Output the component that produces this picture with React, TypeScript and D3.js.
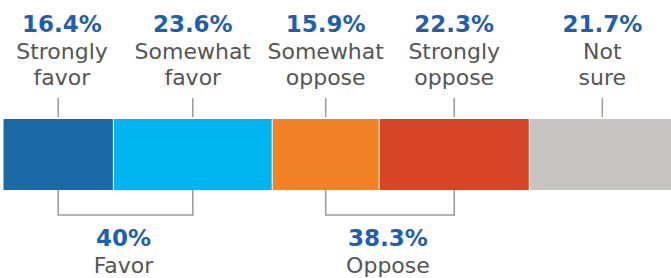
import React from 'react';
import * as d3 from 'd3';

const categories = ['Strongly favor', 'Somewhat favor', 'Somewhat oppose', 'Strongly oppose', 'Not sure'];
const labelLines = [['Strongly', 'favor'], ['Somewhat', 'favor'], ['Somewhat', 'oppose'], ['Strongly', 'oppose'], ['Not', 'sure']];
const values = [16.4, 23.6, 15.9, 22.3, 21.7];
const colors = ['#1b6aa5', '#00b5ef', '#f28227', '#d64527', '#c6c5c3'];

const groupNames = ['Favor', 'Oppose'];
const groupValues = [40, 38.3];
const groupMembers = [[0, 1], [2, 3]];

const width = 671;
const height = 278;
const barTop = 119;
const barBottom = 190;
const font = '"DejaVu Sans", sans-serif';
const blue = '#1f5fad';
const grey = '#555555';
const lineColor = '#9a9a9a';
const minLabelX = 62; // keep the first label block off the left edge

const App = () => {
  const x = d3.scaleLinear().domain([0, 100]).range([3, 676]);

  // cumulative start/end for each segment
  const starts = values.map((_, i) => d3.sum(values.slice(0, i)));
  const segs = values.map((v, i) => ({
    name: categories[i],
    x0: x(starts[i]),
    x1: x(starts[i] + v),
    mid: (x(starts[i]) + x(starts[i] + v)) / 2,
    value: v,
  }));

  const fmt = (v: number) => `${v}%`;

  return (
    <svg width={width} height={height} style={{ position: 'absolute', left: 0, top: 0 }}>
      {segs.map((s, i) => {
        const lx = Math.max(s.mid, minLabelX);
        return (
          <g key={s.name}>
            <rect x={s.x0 + 0.5} y={barTop} width={s.x1 - s.x0 - 1} height={barBottom - barTop} fill={colors[i]} />
            <line x1={s.mid} x2={s.mid} y1={98} y2={117} stroke={lineColor} strokeWidth={1.5} />
            <text x={lx} y={31.5} textAnchor="middle" fontFamily={font} fontWeight="bold" fontSize={23} fill={blue}>
              {fmt(s.value)}
            </text>
            {labelLines[i].map((t, j) => (
              <text key={t} x={lx} y={59.3 + j * 26} textAnchor="middle" fontFamily={font} fontSize={22} fill={grey}>
                {t}
              </text>
            ))}
          </g>
        );
      })}
      {groupNames.map((g, k) => {
        const a = segs[groupMembers[k][0]].mid;
        const b = segs[groupMembers[k][1]].mid;
        const c = (a + b) / 2;
        return (
          <g key={g}>
            <path d={`M${a},${barBottom}V215H${b}V${barBottom}`} fill="none" stroke={lineColor} strokeWidth={1.5} />
            <text x={c - 2} y={245.7} textAnchor="middle" fontFamily={font} fontWeight="bold" fontSize={23} fill={blue}>
              {fmt(groupValues[k])}
            </text>
            <text x={c - 2} y={273} textAnchor="middle" fontFamily={font} fontSize={22} fill={grey}>
              {g}
            </text>
          </g>
        );
      })}
    </svg>
  );
};

export default App;
